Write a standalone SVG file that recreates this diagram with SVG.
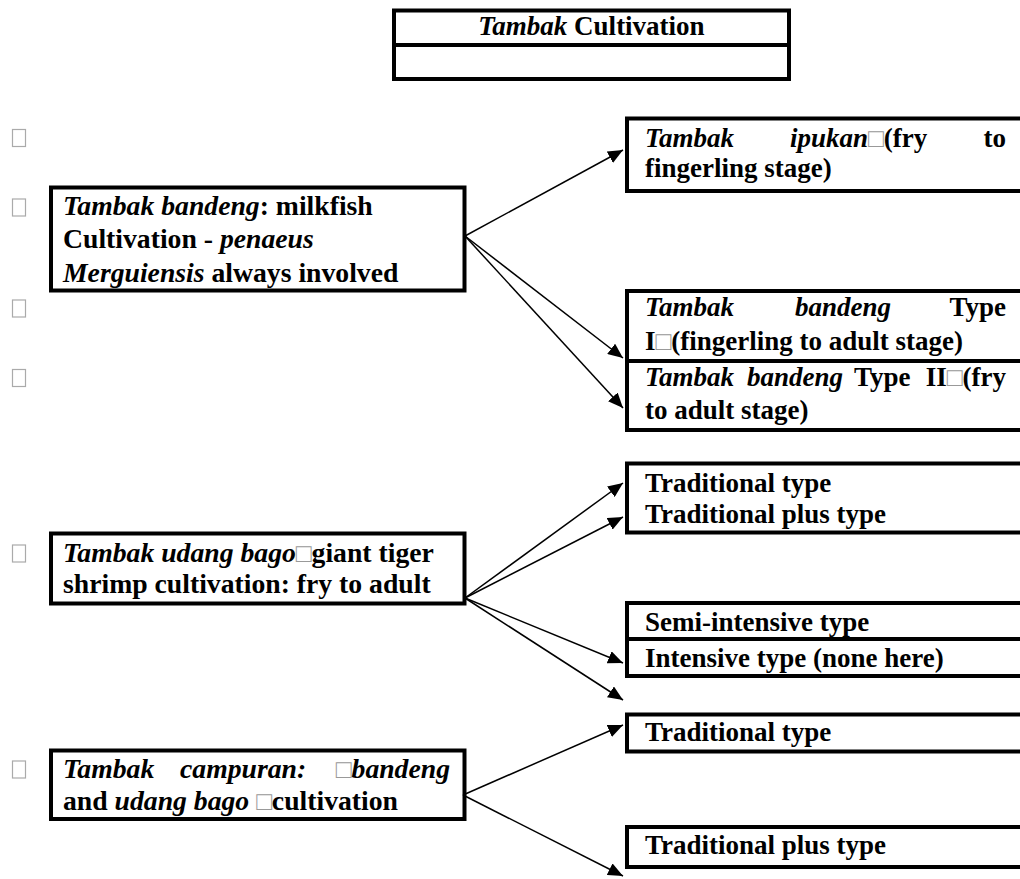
<svg xmlns="http://www.w3.org/2000/svg" width="1020" height="879" viewBox="0 0 1020 879">
<style>
.box{fill:none;stroke:#000;stroke-width:4}
.t{font-family:'Liberation Serif','DejaVu Serif',serif;font-size:27px;font-weight:bold;fill:#000}
.l{font-size:27.7px}
.i{font-style:italic}
.tofu{font-weight:normal;font-style:normal;fill:#999;font-size:26px}
.bul{fill:#fff;stroke:#aaa;stroke-width:1.2}
.con{stroke:#000;stroke-width:1.5;fill:none;marker-end:url(#ah)}
</style>
<defs>
<marker id="ah" markerUnits="userSpaceOnUse" markerWidth="16" markerHeight="13" refX="15" refY="6.5" orient="auto">
<path d="M0,0 L15,6.5 L0,13 z" fill="#000"/>
</marker>
</defs>
<rect width="1020" height="879" fill="#fff"/>

<g id="title">
<rect class="box" x="394" y="10.5" width="395" height="68.5"/>
<line class="box" x1="394" y1="45" x2="789" y2="45"/>
<text class="t" x="591.5" y="35" text-anchor="middle"><tspan class="i">Tambak</tspan> Cultivation</text>
</g>

<g id="bullets">
<rect class="bul" x="12.5" y="129.5" width="13" height="17"/>
<rect class="bul" x="12.5" y="199" width="13" height="17"/>
<rect class="bul" x="12.5" y="300" width="13" height="17"/>
<rect class="bul" x="12.5" y="369.5" width="13" height="17"/>
<rect class="bul" x="12.5" y="545" width="13" height="17"/>
<rect class="bul" x="12.5" y="761" width="13" height="17"/>
</g>

<g id="node-bandeng">
<rect class="box" x="51" y="187.5" width="413.5" height="103"/>
<text class="t l" x="63" y="215"><tspan class="i">Tambak bandeng</tspan>: milkfish</text>
<text class="t l" x="63" y="248">Cultivation - <tspan class="i">penaeus</tspan></text>
<text class="t l" x="63" y="282"><tspan class="i">Merguiensis</tspan> always involved</text>
</g>

<g id="node-udang">
<rect class="box" x="51" y="533.5" width="413.5" height="70"/>
<text class="t l" x="63" y="562"><tspan class="i">Tambak udang bago</tspan><tspan class="tofu">□</tspan>giant tiger</text>
<text class="t l" x="63" y="593">shrimp cultivation: fry to adult</text>
</g>

<g id="node-campuran">
<rect class="box" x="51" y="750.5" width="413.5" height="68.5"/>
<text class="t l i" x="63" y="778">Tambak</text>
<text class="t l i" x="180" y="778">campuran:</text>
<text class="t l" x="450" y="778" text-anchor="end"><tspan class="tofu">□</tspan><tspan class="i">bandeng</tspan></text>
<text class="t l" x="63" y="810">and <tspan class="i">udang bago</tspan> <tspan class="tofu">□</tspan>cultivation</text>
</g>

<g id="node-ipukan">
<rect class="box" x="627" y="118.5" width="420" height="72.5"/>
<text class="t i" x="645" y="147">Tambak</text>
<text class="t" x="790" y="147"><tspan class="i">ipukan</tspan><tspan class="tofu">□</tspan>(fry</text>
<text class="t" x="1006" y="147" text-anchor="end">to</text>
<text class="t" x="645" y="177">fingerling stage)</text>
</g>

<g id="node-bandeng-1">
<rect class="box" x="627" y="291" width="420" height="70"/>
<text class="t i" x="645" y="316">Tambak</text>
<text class="t i" x="795" y="316">bandeng</text>
<text class="t" x="1006" y="316" text-anchor="end">Type</text>
<text class="t" x="645" y="350">I<tspan class="tofu">□</tspan>(fingerling to adult stage)</text>
</g>

<g id="node-bandeng-2">
<rect class="box" x="627" y="361" width="420" height="69"/>
<text class="t i" x="645" y="386">Tambak</text>
<text class="t i" x="747" y="386">bandeng</text>
<text class="t" x="854" y="386">Type</text>
<text class="t" x="1006" y="386" text-anchor="end">II<tspan class="tofu">□</tspan>(fry</text>
<text class="t" x="645" y="419">to adult stage)</text>
</g>

<g id="node-trad-1">
<rect class="box" x="627" y="463.5" width="420" height="69"/>
<text class="t" x="645" y="492">Traditional type</text>
<text class="t" x="645" y="523">Traditional plus type</text>
</g>

<g id="node-semi">
<rect class="box" x="627" y="603" width="420" height="36"/>
<text class="t" x="645" y="631">Semi-intensive type</text>
</g>

<g id="node-intensive">
<rect class="box" x="627" y="639" width="420" height="37"/>
<text class="t" x="645" y="667">Intensive type (none here)</text>
</g>

<g id="node-trad-2">
<rect class="box" x="627" y="714.5" width="420" height="37"/>
<text class="t" x="645" y="741">Traditional type</text>
</g>

<g id="node-tradplus-2">
<rect class="box" x="627" y="827" width="420" height="40"/>
<text class="t" x="645" y="854">Traditional plus type</text>
</g>

<g id="connectors">
<line class="con" x1="465" y1="236" x2="623" y2="150"/>
<line class="con" x1="465" y1="236" x2="623" y2="358"/>
<line class="con" x1="465" y1="236" x2="623" y2="408"/>
<line class="con" x1="465" y1="598" x2="623" y2="483"/>
<line class="con" x1="465" y1="598" x2="623" y2="517"/>
<line class="con" x1="465" y1="598" x2="623" y2="663"/>
<line class="con" x1="465" y1="598" x2="623" y2="700"/>
<line class="con" x1="463" y1="795" x2="623" y2="725"/>
<line class="con" x1="463" y1="795" x2="623" y2="876"/>
</g>
</svg>
